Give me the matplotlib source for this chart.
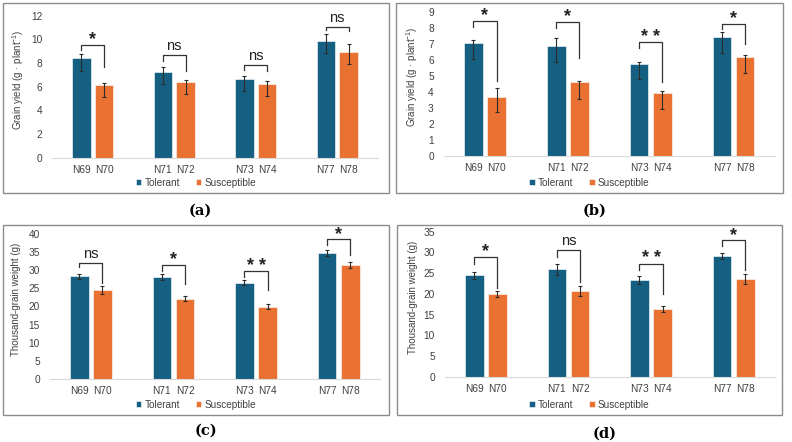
import matplotlib
matplotlib.use('Agg')
import matplotlib.pyplot as plt
from matplotlib.patches import Rectangle
import numpy as np

plt.rcParams['font.family'] = ['Liberation Sans', 'DejaVu Sans']
plt.rcParams['mathtext.fontset'] = 'custom'
plt.rcParams['mathtext.rm'] = 'Liberation Sans'
plt.rcParams['mathtext.it'] = 'Liberation Sans'

# data
pairs = [['N69', 'N70'], ['N71', 'N72'], ['N73', 'N74'], ['N77', 'N78']]

# (a) grain yield, set 1
tol_a = [8.43, 7.27, 6.63, 9.89]
tol_a_up = [0.31, 0.37, 0.28, 0.53]
tol_a_lo = [1.07, 1.00, 1.01, 1.07]
sus_a = [6.12, 6.40, 6.21, 8.93]
sus_a_up = [0.17, 0.14, 0.25, 0.70]
sus_a_lo = [1.01, 1.04, 0.98, 0.98]
sig_a = ['*', 'ns', 'ns', 'ns']
br_top_a = [9.50, 8.65, 7.84, 11.07]
br_left_a = [9.07, 8.20, 7.42, 10.76]
br_right_a = [7.70, 7.30, 7.36, 10.70]

# (b) grain yield, set 2
tol_b = [7.05, 6.84, 5.76, 7.42]
tol_b_up = [0.21, 0.50, 0.08, 0.33]
tol_b_lo = [1.00, 1.00, 0.98, 1.00]
sus_b = [3.70, 4.59, 3.95, 6.15]
sus_b_up = [0.52, 0.08, 0.08, 0.15]
sus_b_lo = [0.98, 1.02, 1.00, 1.00]
sig_b = ['*', '*', '**', '*']
br_top_b = [8.44, 8.34, 7.09, 8.25]
br_left_b = [8.07, 7.97, 6.72, 7.92]
br_right_b = [4.68, 6.10, 4.60, 6.97]

# (c) thousand-grain weight, set 1
tol_c = [28.4, 28.1, 26.5, 34.7]
tol_c_err = [0.7, 0.9, 0.7, 0.8]
sus_c = [24.55, 22.1, 20.0, 31.5]
sus_c_err = [1.2, 0.7, 0.7, 0.9]
sig_c = ['ns', '*', '**', '*']
br_top_c = [32.1, 31.4, 29.7, 38.5]
br_left_c = [30.9, 29.9, 28.1, 37.1]
br_right_c = [26.5, 26.3, 24.5, 34.1]

# (d) thousand-grain weight, set 2
tol_d = [24.46, 25.9, 23.3, 29.2]
tol_d_err = [0.8, 1.4, 0.9, 0.75]
sus_d = [19.87, 20.8, 16.4, 23.5]
sus_d_err = [0.7, 1.2, 0.7, 1.2]
sig_d = ['*', 'ns', '**', '*']
br_top_d = [28.96, 30.5, 27.3, 32.9]
br_left_d = [27.3, 29.0, 25.7, 31.5]
br_right_d = [21.4, 22.8, 19.9, 25.7]

BLUE = '#156082'
ORANGE = '#E97132'
TXT = '#404040'
W, H = 792, 442

fig = plt.figure(figsize=(W / 100, H / 100), dpi=100)


def px_axes(x0, x1, y0, y1):
    # pixel box -> figure axes
    return fig.add_axes([x0 / W, 1 - y0 / H, (x1 - x0) / W, (y0 - y1) / H])


def panel(ax, tol, tol_err, sus, sus_err, sig, br_top, br_left, br_right,
          ymax, ystep, ylabel, label_x):
    g = np.arange(len(pairs))
    off, bw = 0.14, 0.225
    ax.bar(g - off, tol, bw, color=BLUE, edgecolor='white', linewidth=0.4, label='Tolerant')
    ax.bar(g + off, sus, bw, color=ORANGE, edgecolor='white', linewidth=0.4, label='Susceptible')
    ax.errorbar(g - off, tol, yerr=tol_err, fmt='none', ecolor='#2b2b2b', elinewidth=0.8, capsize=1.6, capthick=0.8)
    ax.errorbar(g + off, sus, yerr=sus_err, fmt='none', ecolor='#2b2b2b', elinewidth=0.8, capsize=1.6, capthick=0.8)

    for i in range(len(pairs)):
        xl, xr = g[i] - off, g[i] + off
        ax.plot([xl, xl, xr, xr], [br_left[i], br_top[i], br_top[i], br_right[i]],
                color='#333333', lw=0.9, clip_on=False)
        if sig[i] == 'ns':
            ax.annotate('ns', (g[i], br_top[i]), xytext=(0, 3.5), textcoords='offset points',
                        ha='center', va='baseline', fontsize=10.5, color='#222222',
                        annotation_clip=False)
        else:
            ax.annotate(' '.join(sig[i]), (g[i], br_top[i]), xytext=(0, 0.5), textcoords='offset points',
                        ha='center', va='baseline', fontsize=13, fontweight='bold',
                        color='#222222', annotation_clip=False)

    ax.set_xlim(-0.5, 3.5)
    ax.set_ylim(0, ymax)
    ax.set_yticks(np.arange(0, ymax + 0.01, ystep))
    ax.set_xticks(np.concatenate([g - off, g + off]))
    ax.set_xticklabels([p[0] for p in pairs] + [p[1] for p in pairs])
    ax.tick_params(axis='both', length=0, labelsize=7.3, labelcolor=TXT)
    ax.tick_params(axis='x', pad=5)
    ax.tick_params(axis='y', pad=7)
    for s in ['top', 'right', 'left']:
        ax.spines[s].set_visible(False)
    ax.spines['bottom'].set_color('#d9d9d9')
    ax.set_ylabel(ylabel, fontsize=7, color=TXT)
    ax.yaxis.set_label_coords(label_x, 0.55)


ax_a = px_axes(52, 378, 158, 15.5)
panel(ax_a, tol_a, [tol_a_lo, tol_a_up], sus_a, [sus_a_lo, sus_a_up], sig_a,
      br_top_a, br_left_a, br_right_a, 12, 2, 'Grain yield (g · plant$^{-1}$)', -0.08)

ax_b = px_axes(443.5, 775, 156, 11.7)
panel(ax_b, tol_b, [tol_b_lo, tol_b_up], sus_b, [sus_b_lo, sus_b_up], sig_b,
      br_top_b, br_left_b, br_right_b, 9, 1, 'Grain yield (g · plant$^{-1}$)', -0.07)

ax_c = px_axes(49.5, 380, 379, 234)
panel(ax_c, tol_c, tol_c_err, sus_c, sus_c_err, sig_c,
      br_top_c, br_left_c, br_right_c, 40, 5, 'Thousand-grain weight (g)', -0.085)

ax_d = px_axes(444.5, 775, 376.7, 231.7)
panel(ax_d, tol_d, tol_d_err, sus_d, sus_d_err, sig_d,
      br_top_d, br_left_d, br_right_d, 35, 5, 'Thousand-grain weight (g)', -0.08)

# frames, legends and captions
frames = [(3, 3, 389, 193), (396, 3, 783, 193), (3, 225, 389, 415), (397, 225, 782, 415)]
legend_y = [183, 183, 405, 405]
captions = [('(a)', 200, 211), ('(b)', 595, 211), ('(c)', 206, 431), ('(d)', 605, 434)]
for ax, (x0, y0, x1, y1), ly, (cap, cx, cy) in zip([ax_a, ax_b, ax_c, ax_d], frames, legend_y, captions):
    fig.add_artist(Rectangle((x0 / W, 1 - y1 / H), (x1 - x0) / W, (y1 - y0) / H,
                             transform=fig.transFigure, fill=False, ec='#8c8c8c', lw=1))
    h, l = ax.get_legend_handles_labels()
    fig.legend(h, l, loc='center', bbox_to_anchor=((x0 + x1) / 2 / W, 1 - ly / H), ncol=2,
               frameon=False, fontsize=7.2, handlelength=0.55, handleheight=0.55,
               handletextpad=0.3, columnspacing=1.6, labelcolor=TXT)
    fig.text(cx / W, 1 - cy / H, cap, ha='center', va='center', family='DejaVu Serif',
             fontweight='bold', fontsize=10.5)

fig.savefig('out.png', dpi=100)
